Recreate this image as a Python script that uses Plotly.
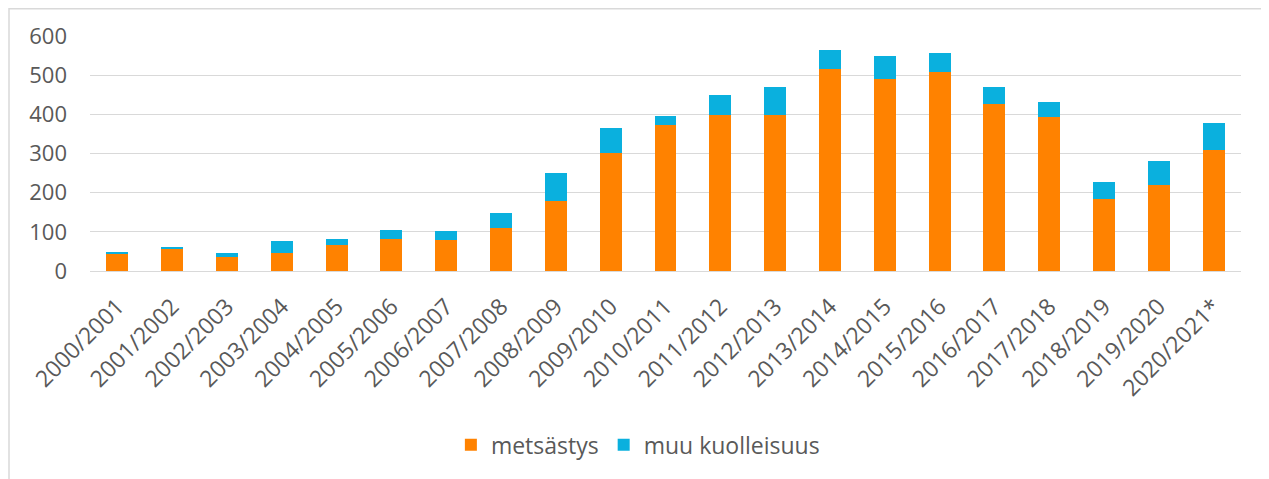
import plotly.graph_objects as go

seasons = ["2000/2001", "2001/2002", "2002/2003", "2003/2004", "2004/2005", "2005/2006",
           "2006/2007", "2007/2008", "2008/2009", "2009/2010", "2010/2011", "2011/2012",
           "2012/2013", "2013/2014", "2014/2015", "2015/2016", "2016/2017", "2017/2018",
           "2018/2019", "2019/2020", "2020/2021*"]
metsastys = [44, 58, 35, 46, 66, 81, 79, 109, 179, 301, 374, 398, 399, 516, 491, 508, 427, 393, 185, 220, 309]
muu_kuolleisuus = [5, 2, 10, 31, 16, 23, 22, 38, 71, 63, 23, 52, 70, 48, 58, 49, 43, 39, 42, 62, 68]
y_ticks = [0, 100, 200, 300, 400, 500, 600]

FONT = "Open Sans"
TXT = "#595959"

# page body has an 8px margin, so figure coordinates are offset by 8px
L, T, PW, PH = 82, 28, 1151, 235

fig = go.Figure()
fig.add_trace(go.Bar(x=seasons, y=metsastys, name="metsästys", marker_color="#FF8200",
                     marker_line_width=0))
fig.add_trace(go.Bar(x=seasons, y=muu_kuolleisuus, name="muu kuolleisuus", marker_color="#0AB0DE",
                     marker_line_width=0))

fig.update_layout(
    barmode="stack",
    bargap=0.6,
    width=1269, height=479,
    margin=dict(l=L, r=1269 - L - PW, t=T, b=479 - T - PH, autoexpand=False),
    paper_bgcolor="white", plot_bgcolor="white",
    font=dict(family=FONT, size=22, color=TXT),
    showlegend=True,
    legend=dict(orientation="h", x=0.476, xanchor="center", y=-0.74, yanchor="middle",
                font=dict(size=23, color=TXT), itemsizing="constant", traceorder="normal",
                itemwidth=30),
    shapes=[dict(type="rect", xref="paper", yref="paper",
                 x0=(1 - L) / PW, x1=(1258 - L) / PW,
                 y0=(T + PH - 480) / PH, y1=(T + PH - 0.8) / PH,
                 line=dict(color="#d9d9d9", width=1.5), layer="below")],
)
fig.update_xaxes(tickangle=-45, showgrid=False, showline=True, linecolor="#d9d9d9", linewidth=1,
                 tickfont=dict(size=23, color=TXT), ticks="", ticklabelstandoff=12,
                 automargin=False)
fig.update_yaxes(range=[0, 600], tickvals=y_ticks, showgrid=True, gridcolor="#d9d9d9", gridwidth=1,
                 zeroline=False, showline=False, tickfont=dict(size=22, color=TXT),
                 ticklabelstandoff=22, automargin=False)

fig.write_html("out.html")
